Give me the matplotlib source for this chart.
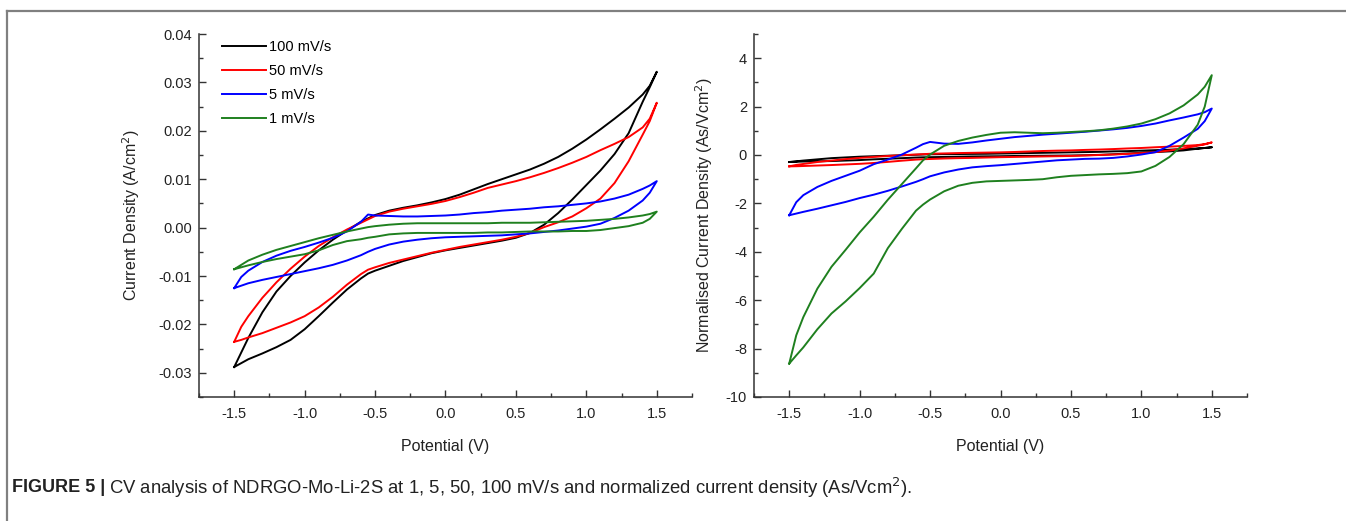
import matplotlib
matplotlib.use("Agg")
import matplotlib.pyplot as plt
from matplotlib.lines import Line2D
from matplotlib.ticker import MultipleLocator, FormatStrFormatter

plt.rcParams['font.family'] = ['Liberation Sans', 'DejaVu Sans']
plt.rcParams['axes.unicode_minus'] = False

# ================= data ================= #
# potential grid (V), same points for forward and reverse branches
v_grid = [-1.5, -1.45, -1.4, -1.3, -1.2, -1.1, -1.0, -0.9, -0.8, -0.7, -0.6, -0.55, -0.5,
          -0.4, -0.3, -0.2, -0.1, 0.0, 0.1, 0.2, 0.3, 0.4, 0.5, 0.6, 0.7, 0.8, 0.9, 1.0,
          1.1, 1.2, 1.3, 1.4, 1.45, 1.5]

labels = ['100 mV/s', '50 mV/s', '5 mV/s', '1 mV/s']
colors = ['black', '#ff0000', '#0000ff', '#1f801f']

# current density (A/cm2), forward sweep (upper branch)
j100_fwd = [-0.0288, -0.0258, -0.0228, -0.0175, -0.0132, -0.0100, -0.0072, -0.0047, -0.0025, -0.0006,
            0.0012, 0.0019, 0.0026, 0.0035, 0.0041, 0.0046, 0.0052, 0.0059, 0.0068, 0.0079, 0.0090,
            0.0100, 0.0110, 0.0120, 0.0132, 0.0146, 0.0163, 0.0182, 0.0203, 0.0225, 0.0248, 0.0275,
            0.0293, 0.0322]
j50_fwd = [-0.0236, -0.0205, -0.0183, -0.0145, -0.0113, -0.0085, -0.0060, -0.0038, -0.0020, -0.0004,
           0.0010, 0.0017, 0.0024, 0.0033, 0.0039, 0.0044, 0.0049, 0.0055, 0.0063, 0.0072, 0.0082,
           0.0089, 0.0096, 0.0104, 0.0113, 0.0123, 0.0134, 0.0146, 0.0160, 0.0173, 0.0187, 0.0207,
           0.0225, 0.0258]
j5_fwd = [-0.0125, -0.0102, -0.0089, -0.0071, -0.0058, -0.0048, -0.0040, -0.0031, -0.0021, -0.0008,
          0.0012, 0.0027, 0.0025, 0.0024, 0.0023, 0.0023, 0.0024, 0.0025, 0.0027, 0.0030, 0.0032,
          0.0035, 0.0037, 0.0039, 0.0042, 0.0044, 0.0047, 0.0050, 0.0054, 0.0060, 0.0068, 0.0080,
          0.0087, 0.0096]
j1_fwd = [-0.0086, -0.0077, -0.0068, -0.0056, -0.0046, -0.0038, -0.0030, -0.0022, -0.0015, -0.0008,
          -0.0002, 0.0001, 0.0003, 0.0006, 0.0008, 0.0009, 0.0009, 0.0009, 0.0009, 0.0009, 0.0009,
          0.0010, 0.0010, 0.0010, 0.0011, 0.0012, 0.0013, 0.0014, 0.0016, 0.0018, 0.0021, 0.0025,
          0.0028, 0.0033]

# current density (A/cm2), reverse sweep (lower branch), listed low -> high potential
j100_rev = [-0.0288, -0.0280, -0.0272, -0.0260, -0.0247, -0.0232, -0.0210, -0.0183, -0.0155, -0.0128,
            -0.0105, -0.0095, -0.0089, -0.0079, -0.0069, -0.0061, -0.0053, -0.0047, -0.0042, -0.0037,
            -0.0032, -0.0027, -0.0021, -0.0011, 0.0006, 0.0030, 0.0058, 0.0088, 0.0118, 0.0152,
            0.0195, 0.0260, 0.0290, 0.0322]
j50_rev = [-0.0236, -0.0232, -0.0227, -0.0218, -0.0207, -0.0196, -0.0183, -0.0165, -0.0143, -0.0118,
           -0.0096, -0.0087, -0.0082, -0.0073, -0.0066, -0.0059, -0.0052, -0.0046, -0.0040, -0.0035,
           -0.0030, -0.0025, -0.0019, -0.0011, 0.0001, 0.0011, 0.0023, 0.0040, 0.0060, 0.0092,
           0.0137, 0.0192, 0.0220, 0.0258]
j5_rev = [-0.0125, -0.0120, -0.0115, -0.0108, -0.0102, -0.0096, -0.0090, -0.0084, -0.0077, -0.0068,
          -0.0057, -0.0050, -0.0044, -0.0035, -0.0029, -0.0025, -0.0022, -0.0020, -0.0019, -0.0018,
          -0.0017, -0.0016, -0.0014, -0.0012, -0.0009, -0.0006, -0.0002, 0.0002, 0.0008, 0.0020,
          0.0035, 0.0056, 0.0072, 0.0096]
j1_rev = [-0.0086, -0.0082, -0.0078, -0.0071, -0.0065, -0.0060, -0.0055, -0.0047, -0.0036, -0.0028,
          -0.0024, -0.0021, -0.0019, -0.0014, -0.0012, -0.0011, -0.0011, -0.0011, -0.0011, -0.0011,
          -0.0010, -0.0010, -0.0009, -0.0008, -0.0008, -0.0008, -0.0007, -0.0007, -0.0005, -0.0001,
          0.0003, 0.0010, 0.0018, 0.0033]

# normalised current density (As/Vcm2), forward sweep
n100_fwd = [-0.29, -0.26, -0.23, -0.18, -0.13, -0.10, -0.07, -0.05, -0.03, -0.01, 0.01, 0.02, 0.03,
            0.035, 0.04, 0.045, 0.05, 0.06, 0.07, 0.08, 0.09, 0.10, 0.11, 0.12, 0.13, 0.15, 0.16,
            0.18, 0.20, 0.22, 0.25, 0.27, 0.29, 0.32]
n50_fwd = [-0.47, -0.41, -0.37, -0.29, -0.23, -0.17, -0.12, -0.08, -0.04, -0.01, 0.02, 0.035, 0.05,
           0.065, 0.08, 0.09, 0.10, 0.11, 0.125, 0.145, 0.165, 0.18, 0.19, 0.21, 0.225, 0.245, 0.27,
           0.29, 0.32, 0.345, 0.375, 0.41, 0.45, 0.52]
n5_fwd = [-2.49, -1.95, -1.66, -1.32, -1.07, -0.86, -0.65, -0.38, -0.19, 0.02, 0.30, 0.45, 0.54,
          0.47, 0.46, 0.52, 0.60, 0.67, 0.74, 0.79, 0.84, 0.88, 0.92, 0.96, 1.01, 1.06, 1.12, 1.20,
          1.30, 1.43, 1.55, 1.68, 1.77, 1.92]
n1_fwd = [-8.62, -7.45, -6.70, -5.52, -4.62, -3.92, -3.20, -2.55, -1.85, -1.20, -0.55, -0.22, 0.02,
          0.38, 0.58, 0.72, 0.83, 0.92, 0.94, 0.92, 0.90, 0.92, 0.95, 0.98, 1.02, 1.09, 1.18, 1.30,
          1.48, 1.72, 2.05, 2.50, 2.82, 3.30]

# normalised current density (As/Vcm2), reverse sweep
n100_rev = [-0.29, -0.28, -0.27, -0.26, -0.25, -0.23, -0.21, -0.18, -0.155, -0.13, -0.105, -0.095,
            -0.09, -0.08, -0.07, -0.06, -0.055, -0.05, -0.04, -0.035, -0.03, -0.025, -0.02, -0.01,
            0.005, 0.03, 0.06, 0.09, 0.12, 0.15, 0.19, 0.26, 0.29, 0.32]
n50_rev = [-0.47, -0.465, -0.455, -0.435, -0.415, -0.39, -0.365, -0.33, -0.285, -0.235, -0.19, -0.175,
           -0.165, -0.145, -0.13, -0.12, -0.105, -0.09, -0.08, -0.07, -0.06, -0.05, -0.04, -0.02,
           0.0, 0.02, 0.045, 0.08, 0.12, 0.185, 0.275, 0.385, 0.44, 0.52]
n5_rev = [-2.49, -2.42, -2.35, -2.22, -2.08, -1.94, -1.78, -1.64, -1.48, -1.30, -1.11, -1.00, -0.88,
          -0.72, -0.60, -0.51, -0.46, -0.42, -0.37, -0.32, -0.27, -0.22, -0.19, -0.16, -0.15, -0.12,
          -0.06, 0.02, 0.12, 0.38, 0.72, 1.08, 1.40, 1.92]
n1_rev = [-8.62, -8.28, -7.95, -7.20, -6.55, -6.05, -5.50, -4.90, -3.85, -3.05, -2.30, -2.05, -1.84,
          -1.50, -1.27, -1.15, -1.09, -1.07, -1.05, -1.03, -1.00, -0.92, -0.86, -0.83, -0.80, -0.78,
          -0.75, -0.68, -0.45, -0.08, 0.45, 1.25, 2.00, 3.30]

left_fwd = [j100_fwd, j50_fwd, j5_fwd, j1_fwd]
left_rev = [j100_rev, j50_rev, j5_rev, j1_rev]
right_fwd = [n100_fwd, n50_fwd, n5_fwd, n1_fwd]
right_rev = [n100_rev, n50_rev, n5_rev, n1_rev]

# ================= figure ================= #
fig = plt.figure(figsize=(13.46, 5.21), dpi=100)
ax1 = fig.add_axes([199/1346, 124/521, 493/1346, 363/521])
ax2 = fig.add_axes([754/1346, 124/521, 493/1346, 363/521])


def style_axes(ax):
    for side in ['top', 'right']:
        ax.spines[side].set_visible(False)
    for side in ['left', 'bottom']:
        ax.spines[side].set_linewidth(1.1)
        ax.spines[side].set_color('#333333')
    ax.tick_params(which='major', direction='in', length=5, width=1.0, color='#333333',
                   labelsize=10.5, labelcolor='#222222')
    ax.tick_params(which='minor', direction='in', length=3, width=1.0, color='#333333')
    ax.tick_params(axis='x', which='major', pad=7)
    ax.tick_params(axis='y', which='major', pad=5)
    ax.set_xlim(-1.75, 1.75)
    ax.xaxis.set_major_locator(MultipleLocator(0.5))
    ax.xaxis.set_minor_locator(MultipleLocator(0.25))
    ax.set_xlabel('Potential (V)', fontsize=11.5, labelpad=13, color='#222222')


def draw_loops(ax, fwd, rev):
    for jf, jr, c, lab in zip(fwd, rev, colors, labels):
        v_loop = v_grid + v_grid[::-1]
        j_loop = jf + jr[::-1]
        ax.plot(v_loop, j_loop, color=c, lw=1.4, label=lab)


# ======= left: current density ======= #
draw_loops(ax1, left_fwd, left_rev)
style_axes(ax1)
ax1.set_ylim(-0.035, 0.04)
ax1.yaxis.set_major_locator(MultipleLocator(0.01))
ax1.yaxis.set_minor_locator(MultipleLocator(0.005))
ax1.yaxis.set_major_formatter(FormatStrFormatter('%.2f'))
ax1.set_ylabel('Current Density (A/cm$^2$)', fontsize=11.5, labelpad=12, color='#222222')
ax1.legend(loc='upper left', bbox_to_anchor=(0.035, 1.0), frameon=False, fontsize=10.5,
           handlelength=3.0, handletextpad=0.2, labelspacing=0.7, borderaxespad=0)

# ======= right: normalised current density ======= #
draw_loops(ax2, right_fwd, right_rev)
style_axes(ax2)
ax2.set_ylim(-10, 5)
ax2.yaxis.set_major_locator(MultipleLocator(2))
ax2.yaxis.set_minor_locator(MultipleLocator(1))
ax2.set_ylabel('Normalised Current Density (As/Vcm$^2$)', fontsize=11.5, labelpad=8,
               color='#222222')

# ======= frame and caption ======= #
fig.add_artist(Line2D([7/1346, 1.0], [1 - 11/521, 1 - 11/521], color='#808080', lw=1.6))
fig.add_artist(Line2D([7/1346, 7/1346], [0.0, 1 - 11/521], color='#808080', lw=1.6))

cap_y = 1 - 488/521
t = fig.text(12/1346, cap_y, 'FIGURE 5 |', fontsize=13, fontweight='bold', va='center',
             color='#222222')
fig.canvas.draw()
bb = t.get_window_extent()
fig.text(bb.x1/1346 + 4/1346, cap_y,
         'CV analysis of NDRGO-Mo-Li-2S at 1, 5, 50, 100 mV/s and normalized current density '
         '(As/Vcm$^2$).', fontsize=13.3, va='center', color='#222222')

fig.savefig('out.png', dpi=100)
